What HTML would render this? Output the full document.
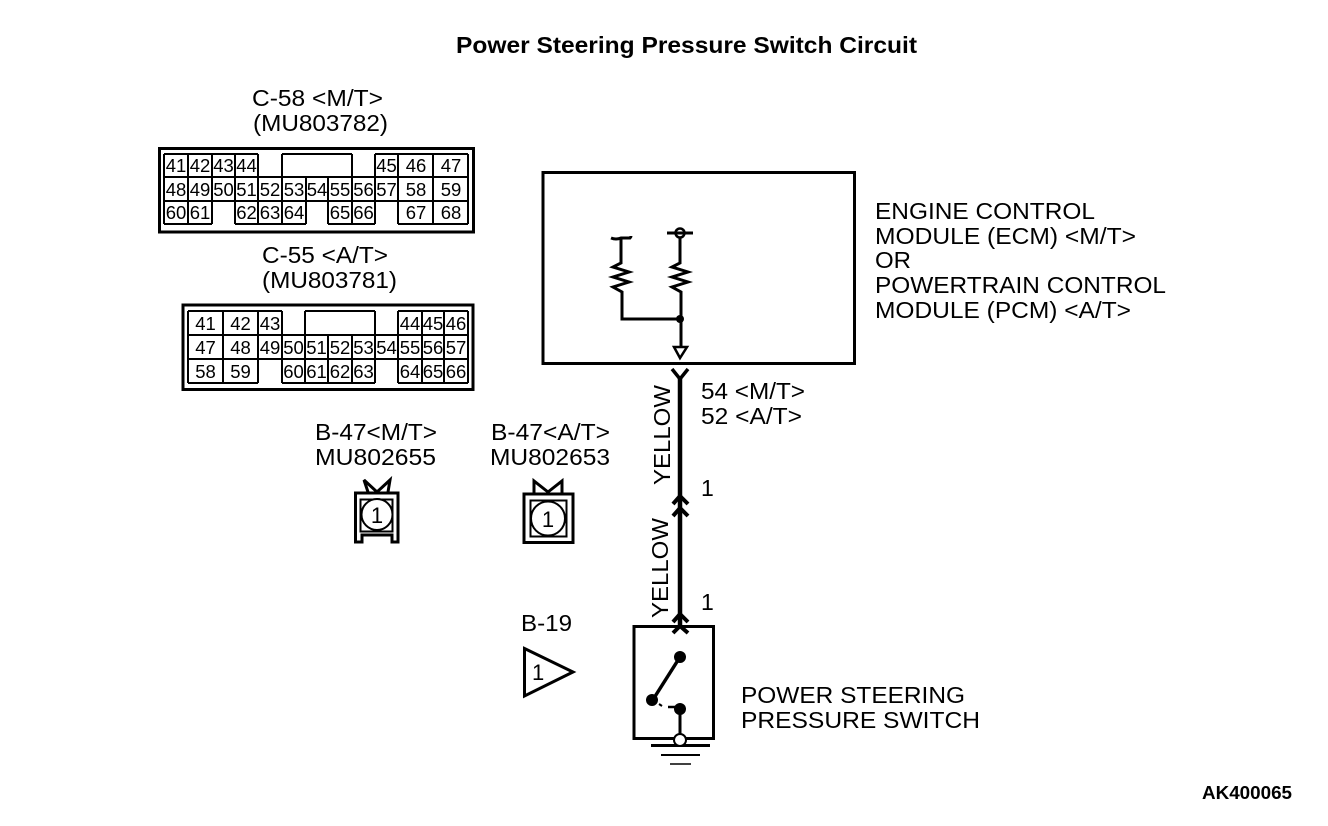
<!DOCTYPE html>
<html><head><meta charset="utf-8"><style>
html,body{margin:0;padding:0;background:#fff}
svg{display:block}
text{font-family:"Liberation Sans",sans-serif;font-size:23px;fill:#000}
.c text{font-size:18.5px;text-anchor:middle}
.b{font-weight:bold}
</style></head><body>
<svg width="1328" height="826" viewBox="0 0 1328 826" xmlns="http://www.w3.org/2000/svg">
<text class="b" x="456" y="53" textLength="461" lengthAdjust="spacingAndGlyphs">Power Steering Pressure Switch Circuit</text>
<text x="252" y="106" textLength="131" lengthAdjust="spacingAndGlyphs">C-58 &lt;M/T&gt;</text>
<text x="253" y="131" textLength="135" lengthAdjust="spacingAndGlyphs">(MU803782)</text>
<text x="262" y="263" textLength="126" lengthAdjust="spacingAndGlyphs">C-55 &lt;A/T&gt;</text>
<text x="262" y="288" textLength="135" lengthAdjust="spacingAndGlyphs">(MU803781)</text>

<g fill="none" stroke="#000">
<rect x="159.500" y="148.500" width="314" height="83.500" stroke-width="3"/>
<path stroke-width="2" d="M164 154H258M164 154V224M188 154V224M212 154V224M235 154V224M258 154V224M282 154H352M282 154V224M306 177V224M328 177V224M352 154V224M375 154V224M398 154V224M433 154V224M468 154V224M375 154H468M164 177H468M164 201H468M164 224H212M235 224H306M328 224H375M398 224H468"/>
<rect x="183" y="305" width="290" height="84.500" stroke-width="3"/>
<path stroke-width="2" d="M188 311H282M188 311V383M223 311V383M258 311V383M282 311V383M305 311H375M305 311V383M328 335V383M352 335V383M375 311V383M398 311V383M422 311V383M444 311V383M468 311V383M398 311H468M188 335H468M188 359H468M188 383H258M282 383H375M398 383H468"/>
</g>
<g class="c">
<text x="176" y="172">41</text><text x="200" y="172">42</text><text x="223.500" y="172">43</text><text x="246.500" y="172">44</text><text x="386.500" y="172">45</text><text x="416" y="172">46</text><text x="451" y="172">47</text>
<text x="176" y="196">48</text><text x="200" y="196">49</text><text x="223.500" y="196">50</text><text x="246.500" y="196">51</text><text x="270" y="196">52</text><text x="294" y="196">53</text><text x="317" y="196">54</text><text x="340" y="196">55</text><text x="363.500" y="196">56</text><text x="386.500" y="196">57</text><text x="416" y="196">58</text><text x="451" y="196">59</text>
<text x="176" y="219">60</text><text x="200" y="219">61</text><text x="246.500" y="219">62</text><text x="270" y="219">63</text><text x="294" y="219">64</text><text x="340" y="219">65</text><text x="363.500" y="219">66</text><text x="416" y="219">67</text><text x="451" y="219">68</text>
<text x="205.500" y="330">41</text><text x="240.500" y="330">42</text><text x="270" y="330">43</text><text x="410" y="330">44</text><text x="433" y="330">45</text><text x="456" y="330">46</text>
<text x="205.500" y="354">47</text><text x="240.500" y="354">48</text><text x="270" y="354">49</text><text x="293.500" y="354">50</text><text x="316.500" y="354">51</text><text x="340" y="354">52</text><text x="363.500" y="354">53</text><text x="386.500" y="354">54</text><text x="410" y="354">55</text><text x="433" y="354">56</text><text x="456" y="354">57</text>
<text x="205.500" y="378">58</text><text x="240.500" y="378">59</text><text x="293.500" y="378">60</text><text x="316.500" y="378">61</text><text x="340" y="378">62</text><text x="363.500" y="378">63</text><text x="410" y="378">64</text><text x="433" y="378">65</text><text x="456" y="378">66</text>
</g>

<rect x="543" y="172.500" width="311.500" height="191" fill="none" stroke="#000" stroke-width="3"/>
<g fill="none" stroke="#000" stroke-width="3">
<path d="M611 238Q616 240 621 238H630Q631 237 631 236M621 238V263L613 267L629 272L613 277L629 282L613 287L622 292V319H680"/>
<path d="M667 233H693M680 238V263L672 267L688 272L672 277L688 282L672 287L681 292V347"/>
<circle cx="680" cy="233" r="4.500" stroke-width="2.500"/>
<path d="M674 347H687L680 358Z" stroke-width="2.500"/>
<path d="M672 369L680 379L688 369" stroke-width="3.500"/>
</g>
<circle cx="680" cy="319" r="4" fill="#000"/>
<path d="M680 376V626" stroke="#000" stroke-width="4.500" fill="none"/>
<g fill="none" stroke="#000" stroke-width="4">
<path d="M673 504L680 496L688 504M673 516L680 508L688 516"/>
<path d="M673 622L680 614L688 622M673 633L680 626L688 633"/>
</g>
<text transform="translate(670,485) rotate(-90)" textLength="100" lengthAdjust="spacingAndGlyphs" x="0" y="0">YELLOW</text>
<text transform="translate(668,618) rotate(-90)" textLength="100" lengthAdjust="spacingAndGlyphs" x="0" y="0">YELLOW</text>
<text x="701" y="399" textLength="104" lengthAdjust="spacingAndGlyphs">54 &lt;M/T&gt;</text>
<text x="701" y="424" textLength="101" lengthAdjust="spacingAndGlyphs">52 &lt;A/T&gt;</text>
<text x="701" y="496">1</text>
<text x="701" y="610">1</text>

<text x="875" y="219" textLength="220" lengthAdjust="spacingAndGlyphs">ENGINE CONTROL</text>
<text x="875" y="244" textLength="261" lengthAdjust="spacingAndGlyphs">MODULE (ECM) &lt;M/T&gt;</text>
<text x="875" y="268" textLength="36" lengthAdjust="spacingAndGlyphs">OR</text>
<text x="875" y="293" textLength="291" lengthAdjust="spacingAndGlyphs">POWERTRAIN CONTROL</text>
<text x="875" y="318" textLength="256" lengthAdjust="spacingAndGlyphs">MODULE (PCM) &lt;A/T&gt;</text>

<text x="315" y="440" textLength="122" lengthAdjust="spacingAndGlyphs">B-47&lt;M/T&gt;</text>
<text x="315" y="465" textLength="121" lengthAdjust="spacingAndGlyphs">MU802655</text>
<text x="491" y="440" textLength="119" lengthAdjust="spacingAndGlyphs">B-47&lt;A/T&gt;</text>
<text x="490" y="465" textLength="120" lengthAdjust="spacingAndGlyphs">MU802653</text>

<g fill="none" stroke="#000">
<path stroke-width="3" d="M355.500 493H398V542H392V535H362V542H355.500ZM368 492L364 480L377 492L390 480L388 492"/>
<rect x="360.500" y="499.500" width="32" height="32" stroke-width="2"/>
<circle cx="377" cy="514.500" r="15.500" stroke-width="2" fill="#fff"/>
<rect x="524" y="494" width="49" height="48.500" stroke-width="3"/>
<path stroke-width="3" d="M534 493L534 481L548 492L562 481L562 493"/>
<rect x="530.500" y="500.500" width="36" height="36" stroke-width="2"/>
<circle cx="548" cy="518.500" r="17" stroke-width="2" fill="#fff"/>
</g>
<text x="377" y="523" style="text-anchor:middle;font-size:22px">1</text>
<text x="548" y="527" style="text-anchor:middle;font-size:22px">1</text>

<text x="521" y="631" textLength="51" lengthAdjust="spacingAndGlyphs">B-19</text>
<path d="M524.500 648.500L573 672L524.500 696Z" fill="none" stroke="#000" stroke-width="3"/>
<text x="532" y="680" style="font-size:22px">1</text>

<rect x="634" y="626.500" width="79.500" height="112" fill="none" stroke="#000" stroke-width="3"/>
<g stroke="#000" fill="none">
<path d="M680 657L654 698" stroke-width="3.500"/>
<path d="M680 709V735" stroke-width="3"/>
<path d="M668 707H676" stroke-width="2.500"/>
<path d="M659 704L662 706" stroke-width="2"/>
<path d="M651 745.500H710" stroke-width="3"/>
<path d="M661 755H700" stroke-width="2"/>
<path d="M670 764H691" stroke-width="1.500"/>
</g>
<circle cx="680" cy="657" r="6" fill="#000"/>
<circle cx="652" cy="700" r="6" fill="#000"/>
<circle cx="680" cy="709" r="6" fill="#000"/>
<circle cx="680" cy="740" r="6" fill="#fff" stroke="#000" stroke-width="2"/>

<text x="741" y="703" textLength="224" lengthAdjust="spacingAndGlyphs">POWER STEERING</text>
<text x="741" y="728" textLength="239" lengthAdjust="spacingAndGlyphs">PRESSURE SWITCH</text>
<text class="b" x="1202" y="799" textLength="90" lengthAdjust="spacingAndGlyphs" style="font-size:18px">AK400065</text>
</svg>
</body></html>
